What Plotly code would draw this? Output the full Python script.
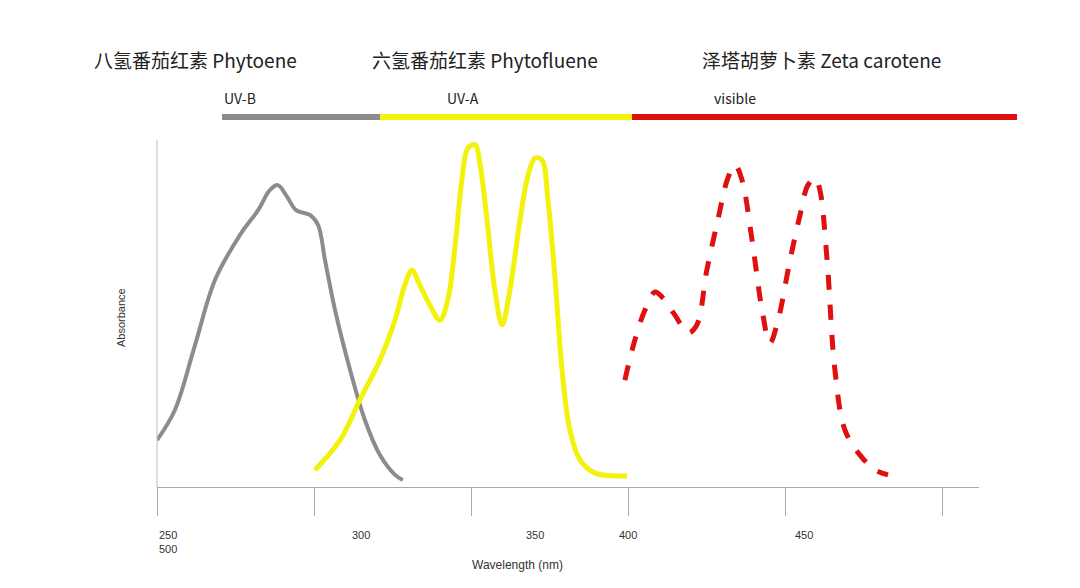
import plotly.graph_objects as go

# wavelength (nm) / absorbance (relative)
phytoene_wl = [250, 255.7, 262.1, 268.5, 276.4, 282.2, 286.0, 288.5, 291.1, 294.3, 298.7, 301.3, 303.5, 306.7, 311.5, 316.2, 321.0, 325.8, 328.3]
phytoene_abs = [0.135, 0.222, 0.409, 0.597, 0.726, 0.798, 0.856, 0.870, 0.841, 0.798, 0.784, 0.755, 0.654, 0.510, 0.337, 0.193, 0.092, 0.035, 0.020]

phytofluene_wl = [300.3, 308.3, 314.6, 321.0, 325.8, 328.9, 331.2, 333.7, 336.9, 340.1, 342.6, 344.8, 347.1, 349.0, 351.3, 352.9, 355.1, 357.6, 359.9, 362.4, 365.6, 368.2, 370.4, 372.6, 374.5, 376.8, 379.0, 381.5, 384.7, 389.5, 395.9, 399.7]
phytofluene_abs = [0.049, 0.135, 0.251, 0.366, 0.481, 0.582, 0.625, 0.582, 0.524, 0.481, 0.539, 0.683, 0.885, 0.977, 0.986, 0.928, 0.769, 0.568, 0.467, 0.568, 0.769, 0.899, 0.948, 0.942, 0.827, 0.597, 0.337, 0.164, 0.078, 0.040, 0.032, 0.032]

zeta_wl = [399.0, 402.2, 405.4, 408.6, 411.1, 414.9, 419.1, 421.9, 425.1, 428.6, 431.8, 434.1, 436.3, 439.5, 442.7, 445.2, 447.8, 451.6, 454.8, 457.3, 459.6, 461.1, 463.4, 465.9, 469.1, 473.9, 478.7, 482.8]
zeta_abs = [0.308, 0.424, 0.510, 0.562, 0.545, 0.496, 0.444, 0.467, 0.625, 0.769, 0.890, 0.928, 0.885, 0.712, 0.510, 0.415, 0.481, 0.654, 0.784, 0.870, 0.890, 0.856, 0.654, 0.337, 0.164, 0.092, 0.049, 0.035]

tick_vals = [250, 300, 350, 400, 450, 500]

L, R, T, B = 157, 979, 140, 487
OFF = 8  # page offset in the browser


def px(x):
    return (x - L) / (R - L)


def py(y):
    return (B - y) / (B - T)


fig = go.Figure()
fig.add_trace(go.Scatter(x=phytoene_wl, y=phytoene_abs, mode="lines", line=dict(color="#8c8c8c", width=4, shape="spline")))
fig.add_trace(go.Scatter(x=phytofluene_wl, y=phytofluene_abs, mode="lines", line=dict(color="#f2f20a", width=5, shape="spline")))
fig.add_trace(go.Scatter(x=zeta_wl, y=zeta_abs, mode="lines", line=dict(color="#e01010", width=5, dash="dash", shape="spline")))

shapes = []
for x0, x1, c in [(222, 380, "#8c8c8c"), (380, 632, "#f2f20a"), (632, 1017, "#e01010")]:
    shapes.append(dict(type="line", xref="paper", yref="paper", x0=px(x0), x1=px(x1), y0=py(117), y1=py(117),
                       line=dict(color=c, width=6)))
shapes.append(dict(type="line", xref="paper", yref="paper", x0=0, x1=0, y0=0, y1=1, line=dict(color="#bbbbbb", width=1)))

annotations = []
font = "Noto Sans CJK SC"
for x, y, t, s in [(92, 60, "八氢番茄红素 Phytoene", 19), (370, 60, "六氢番茄红素 Phytofluene", 19),
                   (700, 60, "泽塔胡萝卜素 Zeta carotene", 19),
                   (222, 98, "UV-B", 14), (445, 98, "UV-A", 14), (712, 98, "visible", 14)]:
    annotations.append(dict(x=px(x), y=py(y), xref="paper", yref="paper", text=t, showarrow=False,
                            xanchor="left", yanchor="middle", font=dict(family=font, size=s, color="#222")))
for x, t in [(157, "250<br>500"), (350, "300"), (535, "350"), (628, "400"), (815, "450")]:
    annotations.append(dict(x=px(x), y=py(527), xref="paper", yref="paper", text=t, showarrow=False,
                            yanchor="top", font=dict(family="Liberation Sans", size=11, color="#333")))
annotations.append(dict(x=px(517), y=py(565), xref="paper", yref="paper", text="Wavelength (nm)", showarrow=False,
                        yanchor="middle", font=dict(family="Liberation Sans", size=12, color="#333")))
annotations.append(dict(x=px(113), y=py(318), xref="paper", yref="paper", text="Absorbance", showarrow=False,
                        yanchor="middle", textangle=-90, font=dict(family="Liberation Sans", size=11, color="#333")))

fig.update_layout(
    width=1080 - 2 * OFF, height=588 - 2 * OFF,
    margin=dict(l=L - OFF, r=1080 - OFF - R, t=T - OFF, b=588 - OFF - B),
    paper_bgcolor="white", plot_bgcolor="white", showlegend=False,
    shapes=shapes, annotations=annotations,
    xaxis=dict(range=[250, 250 + (R - L) / 3.14], tickvals=tick_vals, showticklabels=False,
               ticks="outside", ticklen=28, tickcolor="#aaaaaa", showline=True, linecolor="#aaaaaa",
               showgrid=False, zeroline=False),
    yaxis=dict(range=[0, 1], visible=False),
)
fig.write_html("out.html")
